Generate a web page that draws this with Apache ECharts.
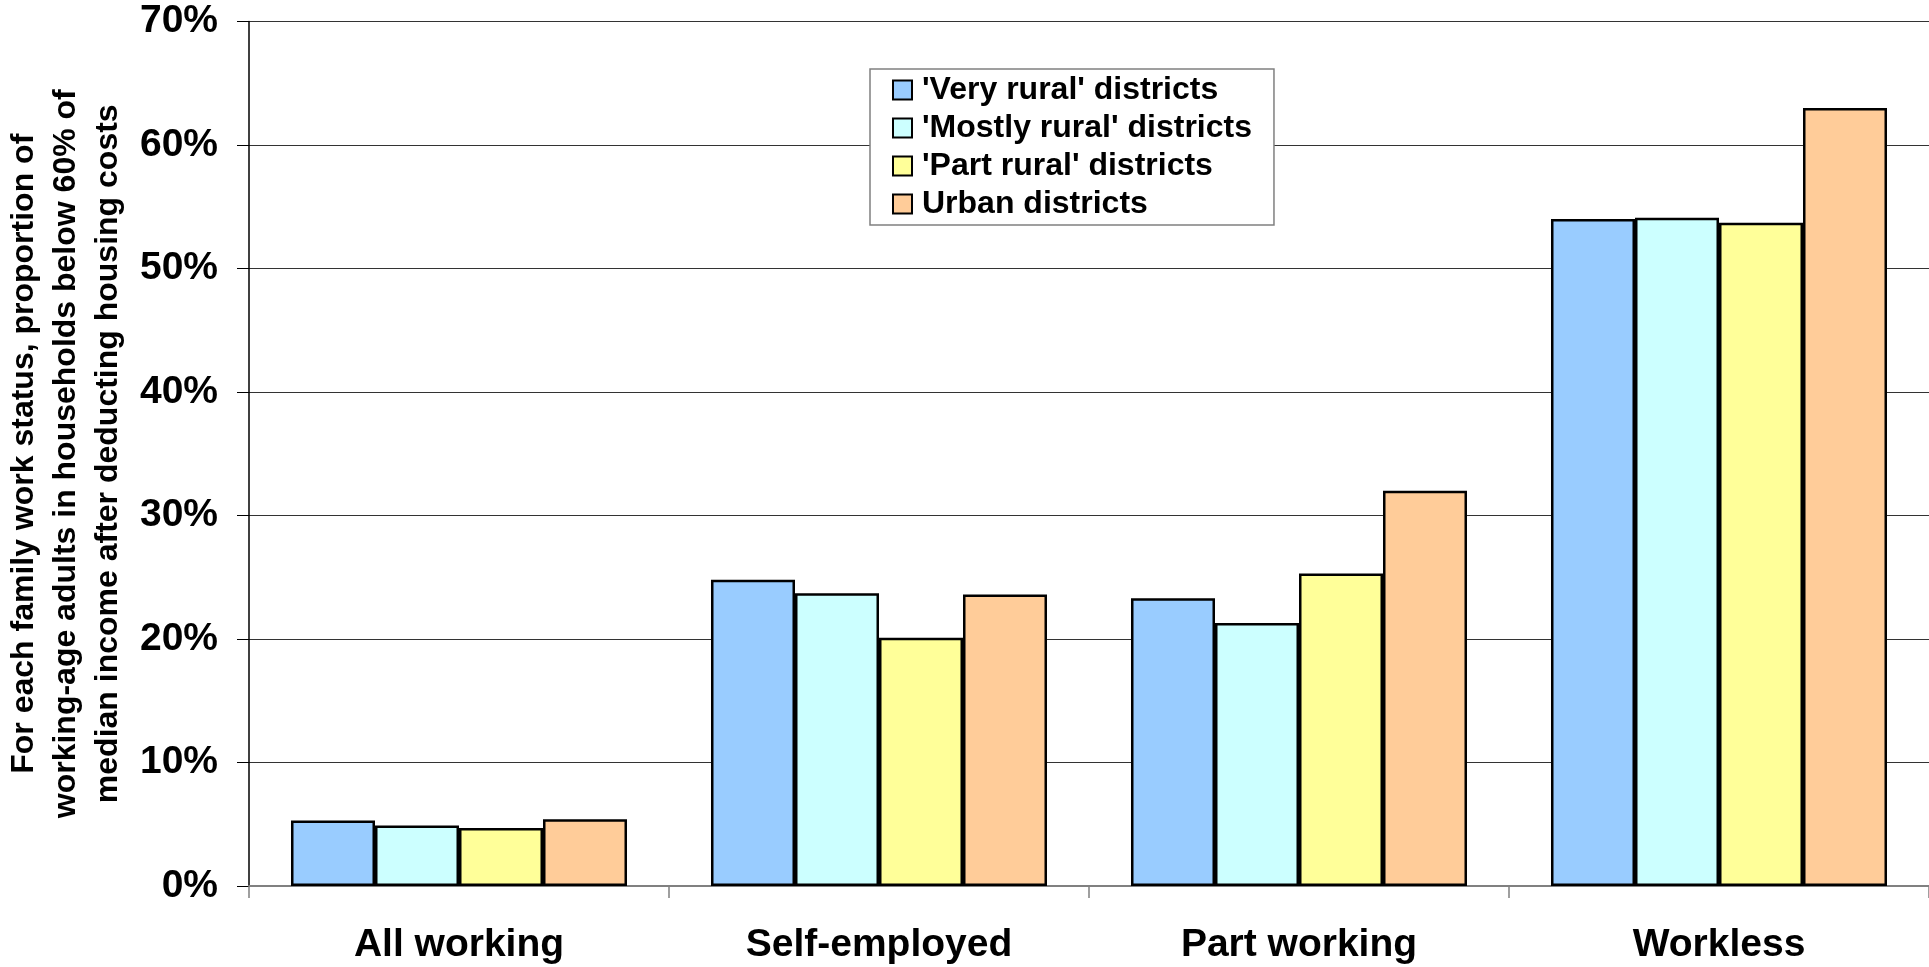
<!DOCTYPE html>
<html>
<head>
<meta charset="utf-8">
<script src="https://cdn.jsdelivr.net/npm/echarts@6/dist/echarts.min.js"></script>
<style>
html,body{margin:0;padding:0;background:#fff;}
#chart{width:1929px;height:967px;}
</style>
</head>
<body>
<div id="chart"></div>
<script>
const categories = ['All working', 'Self-employed', 'Part working', 'Workless'];
const seriesNames = ["'Very rural' districts", "'Mostly rural' districts", "'Part rural' districts", 'Urban districts'];
const veryRural = [5.3, 24.8, 23.3, 54.0];
const mostlyRural = [4.9, 23.7, 21.3, 54.1];
const partRural = [4.7, 20.1, 25.3, 53.7];
const urban = [5.4, 23.6, 32.0, 63.0];
const colors = ['#99CCFF', '#CCFFFF', '#FFFF99', '#FFCC99'];
const yAxisName = 'For each family work status, proportion of\nworking-age adults in households below 60% of\nmedian income after deducting housing costs';

const FONT = '"Liberation Sans", Arial, sans-serif';
const allData = [veryRural, mostlyRural, partRural, urban];

const chart = echarts.init(document.getElementById('chart'), null, {renderer: 'canvas'});
chart.setOption({
  animation: false,
  backgroundColor: '#fff',
  grid: {left: 249, right: 0, top: 21.5, bottom: 81, containLabel: false, outerBoundsMode: 'none'},
  legend: {
    orient: 'vertical',
    left: 870, top: 69,
    backgroundColor: '#fff',
    borderColor: '#808080', borderWidth: 1.5,
    padding: [5, 22, 5, 22],
    itemWidth: 19, itemHeight: 19, itemGap: 6,
    icon: 'rect',
    itemStyle: {borderColor: '#000', borderWidth: 2},
    textStyle: {fontFamily: FONT, fontWeight: 'bold', fontSize: 32, color: '#000', padding: [0, 0, 0, 5]},
    data: seriesNames
  },
  xAxis: {
    type: 'category',
    data: categories,
    axisLine: {show: true, lineStyle: {color: '#808080', width: 2}},
    axisTick: {show: true, length: 12, interval: 0, lineStyle: {color: '#808080', width: 1.5}},
    axisLabel: {fontFamily: FONT, fontWeight: 'bold', fontSize: 39, color: '#000', margin: 40, interval: 0},
    splitLine: {show: false}
  },
  yAxis: {
    type: 'value',
    min: 0, max: 70, interval: 10,
    name: yAxisName,
    nameLocation: 'middle',
    nameGap: 117,
    nameRotate: 90,
    nameTextStyle: {fontFamily: FONT, fontWeight: 'bold', fontSize: 32, color: '#000', lineHeight: 42, align: 'center'},
    axisLine: {show: true, lineStyle: {color: '#000', width: 1.5}},
    axisTick: {show: true, length: 12, lineStyle: {color: '#000', width: 1}},
    axisLabel: {fontFamily: FONT, fontWeight: 'bold', fontSize: 39, color: '#000', margin: 31, formatter: '{value}%'},
    splitLine: {show: true, lineStyle: {color: '#333', width: 1}}
  },
  series: allData.map((d, i) => ({
    name: seriesNames[i],
    type: 'bar',
    data: d,
    barGap: '0%',
    barCategoryGap: '20%',
    itemStyle: {color: colors[i], borderColor: '#000', borderWidth: 2.5},
    emphasis: {disabled: true}
  }))
});
</script>
</body>
</html>
